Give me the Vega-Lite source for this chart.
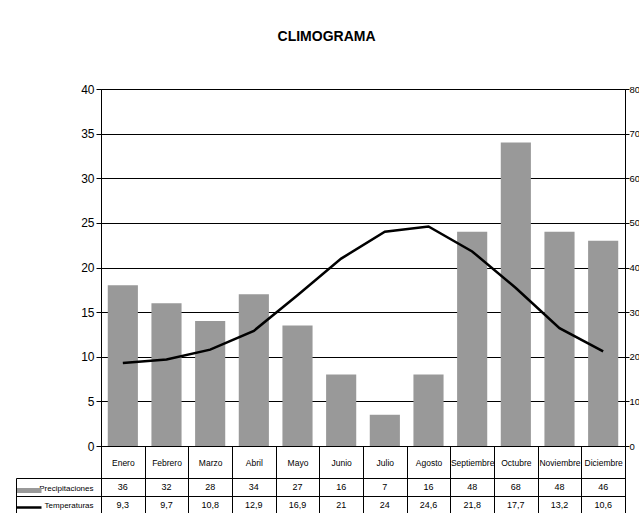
{
  "$schema": "https://vega.github.io/schema/vega-lite/v6.json",
  "padding": {"left": 13, "top": 29, "right": 15, "bottom": 0},
  "title": {"text": "CLIMOGRAMA", "font": "Liberation Sans", "fontSize": 14, "fontWeight": "bold", "color": "black", "offset": 39, "anchor": "middle"},
  "config": {
    "locale": {"number": {"decimal": ",", "thousands": ".", "grouping": [3], "currency": ["", " €"]}},
    "view": {"stroke": "black", "strokeWidth": 1},
    "axis": {"domainColor": "black", "tickColor": "black", "gridColor": "black", "gridOpacity": 1, "labelColor": "black", "labelFont": "Liberation Sans", "title": null, "labelOverlap": false, "labelLimit": 0},
    "text": {"font": "Liberation Sans", "color": "black"}
  },
  "data": {"values": [
    {"mes": "Enero", "Precipitaciones": 36, "Temperaturas": 9.3},
    {"mes": "Febrero", "Precipitaciones": 32, "Temperaturas": 9.7},
    {"mes": "Marzo", "Precipitaciones": 28, "Temperaturas": 10.8},
    {"mes": "Abril", "Precipitaciones": 34, "Temperaturas": 12.9},
    {"mes": "Mayo", "Precipitaciones": 27, "Temperaturas": 16.9},
    {"mes": "Junio", "Precipitaciones": 16, "Temperaturas": 21},
    {"mes": "Julio", "Precipitaciones": 7, "Temperaturas": 24},
    {"mes": "Agosto", "Precipitaciones": 16, "Temperaturas": 24.6},
    {"mes": "Septiembre", "Precipitaciones": 48, "Temperaturas": 21.8},
    {"mes": "Octubre", "Precipitaciones": 68, "Temperaturas": 17.7},
    {"mes": "Noviembre", "Precipitaciones": 48, "Temperaturas": 13.2},
    {"mes": "Diciembre", "Precipitaciones": 46, "Temperaturas": 10.6}
  ]},
  "bounds": "flush",
  "spacing": 32,
  "vconcat": [
    {
      "width": 524,
      "height": 357,
      "layer": [
        {
          "mark": {"type": "bar", "color": "#999999", "width": {"band": 0.69}},
          "encoding": {
            "x": {"field": "mes", "type": "nominal", "sort": null, "scale": {"paddingInner": 0, "paddingOuter": 0}, "axis": null},
            "y": {"field": "Precipitaciones", "type": "quantitative", "scale": {"domain": [0, 80]},
              "axis": {"orient": "right", "values": [0, 10, 20, 30, 40, 50, 60, 70, 80], "grid": false, "tickSize": 4, "labelPadding": 0, "labelFontSize": 9.5}}
          }
        },
        {
          "mark": {"type": "line", "color": "black", "strokeWidth": 2.5},
          "encoding": {
            "x": {"field": "mes", "type": "nominal", "sort": null, "scale": {"paddingInner": 0, "paddingOuter": 0}, "axis": null},
            "y": {"field": "Temperaturas", "type": "quantitative", "scale": {"domain": [0, 40]},
              "axis": {"orient": "left", "values": [0, 5, 10, 15, 20, 25, 30, 35, 40], "grid": true, "tickSize": 5, "labelPadding": 2, "labelFontSize": 12}}
          }
        }
      ],
      "resolve": {"scale": {"y": "independent"}}
    },
    {
      "width": 524,
      "height": 35,
      "transform": [{"fold": ["Precipitaciones", "Temperaturas"], "as": ["serie", "valor"]}],
      "layer": [
        {
          "mark": {"type": "text", "fontSize": 9, "baseline": "middle", "dy": 0.5},
          "encoding": {
            "x": {"field": "mes", "type": "nominal", "sort": null, "scale": {"paddingInner": 0, "paddingOuter": 0},
              "axis": {"orient": "top", "tickBand": "extent", "tickSize": 32, "labelPadding": -21, "grid": true, "labelFontSize": 8.5, "labelAngle": 0, "domain": true}},
            "y": {"field": "serie", "type": "nominal", "sort": ["Precipitaciones", "Temperaturas"],
              "axis": {"orient": "left", "tickBand": "extent", "tickSize": 85, "labelPadding": -77, "grid": true, "domain": true, "labelFontSize": 8, "labelBaseline": "middle", "labelOffset": 1.5}},
            "text": {"field": "valor", "type": "quantitative", "format": ".1~f"}
          }
        },
        {
          "mark": {"type": "text", "opacity": 0},
          "encoding": {
            "y": {"field": "serie", "type": "nominal", "sort": ["Precipitaciones", "Temperaturas"],
              "axis": {"orient": "left", "offset": 85, "labels": false, "grid": false, "domain": true, "ticks": true, "tickSize": -25, "tickCap": "butt", "tickOffset": 3,
                "tickColor": {"condition": {"test": "datum.value === 'Precipitaciones'", "value": "#999999"}, "value": "black"},
                "tickWidth": {"condition": {"test": "datum.value === 'Precipitaciones'", "value": 5}, "value": 2.5}}},
            "text": {"value": ""}
          }
        }
      ],
      "resolve": {"axis": {"y": "independent"}}
    }
  ]
}
